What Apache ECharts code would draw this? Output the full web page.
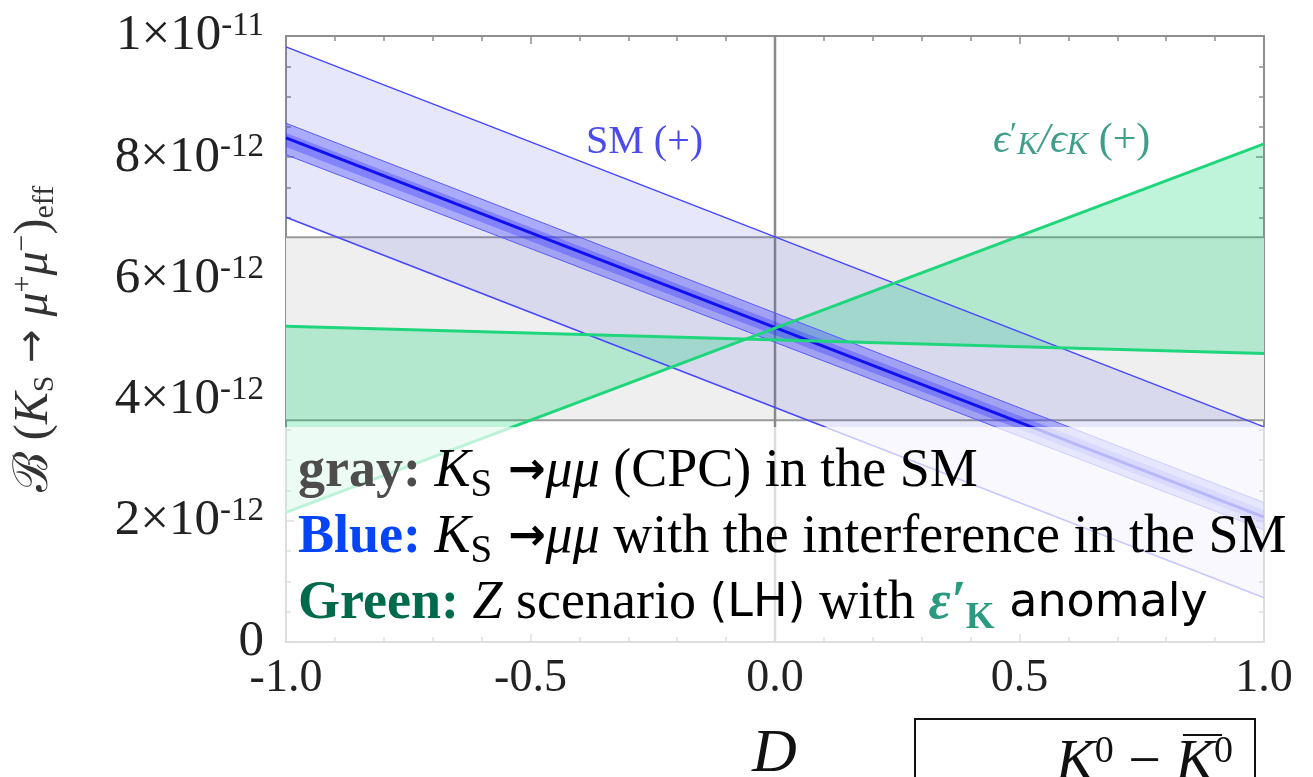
<!DOCTYPE html>
<html lang="en">
<head>
  <meta charset="UTF-8">
  <title>KS to mumu vs D</title>
  <script src="https://cdn.jsdelivr.net/npm/echarts@6/dist/echarts.min.js"></script>
  <style>
    html, body { margin: 0; padding: 0; background: #fff; }
    #chart { width: 1313px; height: 777px; }
  </style>
</head>
<body>
  <div id="chart"></div>
  <script>
    // x = D, y in units of 1e-12 (axis runs 0 .. 1e-11)
    const dEnds = [-1, 1];
    const grayBand = [3.66, 6.68];          // KS -> mumu (CPC) in the SM
    const smWideUpper = [9.82, 3.55];
    const smWideLower = [7.01, 0.73];
    const smNarrowUpper = [8.56, 2.30];
    const smNarrowLower = [8.04, 1.85];
    const smInnerUpper = [8.40, 2.18];
    const smInnerLower = [8.17, 1.96];
    const smCentral = [8.32, 2.06];
    const epsFlat = [5.21, 4.76];           // Z scenario, eps'/eps (+)
    const epsRising = [2.14, 8.22];
    const xTicks = ['-1.0', '-0.5', '0.0', '0.5', '1.0'];

    const SERIF = '"Liberation Serif", "DejaVu Serif", serif';
    const SANS = '"DejaVu Sans", sans-serif';
    const chart = echarts.init(document.getElementById('chart'));

    function pts(ys) {
      return dEnds.map((d, i) => [d, ys[i]]);
    }

    // filled polygon between two straight lines (also works for crossing lines)
    function band(name, upper, lower, color, z) {
      return {
        name: name,
        type: 'custom',
        silent: true,
        z: z,
        data: [0],
        renderItem: function (params, api) {
          const poly = [];
          dEnds.forEach((d, i) => poly.push(api.coord([d, upper[i]])));
          for (let i = dEnds.length - 1; i >= 0; i--) poly.push(api.coord([dEnds[i], lower[i]]));
          return {
            type: 'polygon',
            shape: { points: poly },
            style: { fill: color }
          };
        }
      };
    }

    function edge(ys, color, width, z) {
      return {
        type: 'line',
        silent: true,
        symbol: 'none',
        z: z,
        data: pts(ys),
        lineStyle: { color: color, width: width }
      };
    }

    const axisGray = '#8f8f8f';

    function xAx(pos, show) {
      return {
        type: 'value', position: pos, min: -1, max: 1, interval: 0.5,
        axisLine: { onZero: false, lineStyle: { color: axisGray, width: 2 } },
        axisTick: { inside: true, length: 8, lineStyle: { color: axisGray, width: 1.5 } },
        minorTick: { show: true, splitNumber: 5, length: 5, lineStyle: { color: axisGray, width: 1.5 } },
        splitLine: { show: false },
        axisLabel: {
          show: show, margin: 14, fontFamily: SERIF, fontSize: 46, color: '#222',
          formatter: function (v) { return xTicks[Math.round((v + 1) * 2)]; }
        }
      };
    }

    function yAx(pos, show) {
      return {
        type: 'value', position: pos, min: 0, max: 10, interval: 2,
        axisLine: { onZero: false, lineStyle: { color: axisGray, width: 2 } },
        axisTick: { inside: true, length: 8, lineStyle: { color: axisGray, width: 1.5 } },
        minorTick: { show: true, splitNumber: 4, length: 5, lineStyle: { color: axisGray, width: 1.5 } },
        splitLine: { show: false },
        axisLabel: {
          show: show, margin: 22, color: '#222',
          formatter: function (v) {
            if (v === 0) return '{a|0}';
            if (v === 10) return '{a|1×10}{b|-11}';
            return '{a|' + v + '×10}{b|-12}';
          },
          rich: {
            a: { fontFamily: SERIF, fontSize: 51, lineHeight: 52, color: '#222' },
            b: { fontFamily: SERIF, fontSize: 33, lineHeight: 30, verticalAlign: 'top', color: '#222' }
          }
        }
      };
    }

    const yLeft = yAx('left', true);
    yLeft.name = '{t|ℬ (}{i|K}{s|S}{a| → }{i|μ}{u|+}{i|μ}{u|−}{t|)}{s|eff}';
    yLeft.nameLocation = 'middle';
    yLeft.nameRotate = 90;
    yLeft.nameGap = 226;
    yLeft.nameTextStyle = {
      color: '#333',
      rich: {
        t: { fontFamily: SERIF, fontSize: 48, lineHeight: 52, color: '#333' },
        a: { fontFamily: SANS, fontSize: 40, lineHeight: 52, color: '#333' },
        i: { fontFamily: SERIF, fontStyle: 'italic', fontSize: 48, lineHeight: 52, color: '#333' },
        s: { fontFamily: SERIF, fontSize: 30, lineHeight: 20, verticalAlign: 'bottom', color: '#333' },
        u: { fontFamily: SERIF, fontSize: 30, lineHeight: 22, verticalAlign: 'top', color: '#333' }
      }
    };

    // graphic text uses fill for colour
    const overlayRich = {
      gy: { fontFamily: SERIF, fontWeight: 'bold', fontSize: 54, fill: '#4d4d4d' },
      bl: { fontFamily: SERIF, fontWeight: 'bold', fontSize: 54, fill: '#0645f5' },
      gr: { fontFamily: SERIF, fontWeight: 'bold', fontSize: 54, fill: '#006b4c' },
      it: { fontFamily: SERIF, fontStyle: 'italic', fontSize: 54, fill: '#000' },
      rm: { fontFamily: SERIF, fontSize: 54, fill: '#000' },
      ar: { fontFamily: SANS, fontWeight: 'bold', fontSize: 45, fill: '#000' },
      sb: { fontFamily: SERIF, fontSize: 39, fill: '#000', verticalAlign: 'bottom', lineHeight: 48 },
      sf: { fontFamily: SANS, fontSize: 46, fill: '#000' },
      ep: { fontFamily: SERIF, fontStyle: 'italic', fontWeight: 'bold', fontSize: 54, fill: '#2a9a80' },
      ek: { fontFamily: SERIF, fontWeight: 'bold', fontSize: 37, fill: '#2a9a80', verticalAlign: 'bottom', lineHeight: 46 }
    };

    const option = {
      animation: false,
      backgroundColor: '#fff',
      grid: { left: 286, right: 49, top: 36, bottom: 135, containLabel: false },
      xAxis: [xAx('bottom', true), xAx('top', false)],
      yAxis: [yLeft, yAx('right', false)],
      series: [
        band('gray', [grayBand[1], grayBand[1]], [grayBand[0], grayBand[0]], '#efefef', 1),
        edge([grayBand[1], grayBand[1]], '#9a9a9a', 2, 2),
        edge([grayBand[0], grayBand[0]], '#9a9a9a', 2, 2),
        {
          type: 'line', silent: true, symbol: 'none', z: 2,
          data: [[0, 0], [0, 10]],
          lineStyle: { color: '#8a8a8a', width: 2.5 }
        },
        band('SM wide', smWideUpper, smWideLower, 'rgba(60,60,230,0.12)', 3),
        band('Z eps', epsFlat, epsRising, 'rgba(0,210,110,0.25)', 3),
        band('SM narrow', smNarrowUpper, smNarrowLower, 'rgba(60,60,255,0.35)', 4),
        band('SM inner', smInnerUpper, smInnerLower, 'rgba(40,40,255,0.30)', 4),
        edge(smWideUpper, '#4646ff', 1.5, 5),
        edge(smWideLower, '#4646ff', 1.5, 5),
        edge(smNarrowUpper, '#5a5aff', 1, 5),
        edge(smNarrowLower, '#5a5aff', 1, 5),
        edge(smCentral, '#1010f0', 3, 6),
        edge(epsFlat, '#1fd67c', 3, 6),
        edge(epsRising, '#1fd67c', 3, 6)
      ],
      graphic: {
        elements: [
          {
            type: 'rect', z: 50, silent: true,
            shape: { x: 284, y: 427, width: 981, height: 217 },
            style: { fill: 'rgba(255,255,255,0.7)' }
          },
          {
            type: 'text', z: 60, left: 586, top: 122,
            style: { text: 'SM (+)', fontFamily: SERIF, fontSize: 40, fill: '#4a4aee' }
          },
          {
            type: 'text', z: 60, left: 993, top: 120,
            style: {
              text: '{e|ϵ}{p|′}{k|K}{e|/ϵ}{k|K}{r| (+)}',
              rich: {
                e: { fontFamily: SERIF, fontStyle: 'italic', fontSize: 42, fill: '#3f9e8a' },
                p: { fontFamily: SERIF, fontSize: 32, fill: '#3f9e8a', verticalAlign: 'top', lineHeight: 24 },
                k: { fontFamily: SERIF, fontStyle: 'italic', fontSize: 32, fill: '#3f9e8a', verticalAlign: 'bottom', lineHeight: 30 },
                r: { fontFamily: SERIF, fontSize: 42, fill: '#3f9e8a' }
              }
            }
          },
          {
            type: 'text', z: 60, left: 298, top: 439,
            style: {
              text: [
                '{gy|gray: }{it|K}{sb|S}{ar| →}{it|μμ}{rm| (CPC) in the SM}',
                '{bl|Blue: }{it|K}{sb|S}{ar| →}{it|μμ}{rm| with the interference in the SM}',
                '{gr|Green: }{it|Z}{rm| scenario }{sf|(LH)}{rm| with }{ep|ε′}{ek|K}{sf| anomaly}'
              ].join('\n'),
              lineHeight: 66,
              rich: overlayRich
            }
          },
          {
            type: 'text', z: 60, left: 752, top: 724,
            style: { text: 'D', fontFamily: SERIF, fontStyle: 'italic', fontSize: 62, fill: '#111' }
          },
          {
            type: 'rect', z: 60,
            shape: { x: 915, y: 719, width: 340, height: 80 },
            style: { fill: 'none', stroke: '#111', lineWidth: 2 }
          },
          {
            type: 'text', z: 60, left: 1056, top: 733,
            style: {
              text: '{k|K}{s|0}{m| − }{k|K}{s|0}',
              rich: {
                k: { fontFamily: SERIF, fontStyle: 'italic', fontSize: 58, fill: '#111', lineHeight: 62 },
                m: { fontFamily: SERIF, fontSize: 58, fill: '#111', lineHeight: 62 },
                s: { fontFamily: SERIF, fontSize: 38, fill: '#111', verticalAlign: 'top', lineHeight: 28 }
              }
            }
          },
          {
            type: 'line', z: 60,
            shape: { x1: 1183, y1: 735, x2: 1222, y2: 735 },
            style: { stroke: '#111', lineWidth: 2 }
          }
        ]
      }
    };

    chart.setOption(option);
  </script>
</body>
</html>
